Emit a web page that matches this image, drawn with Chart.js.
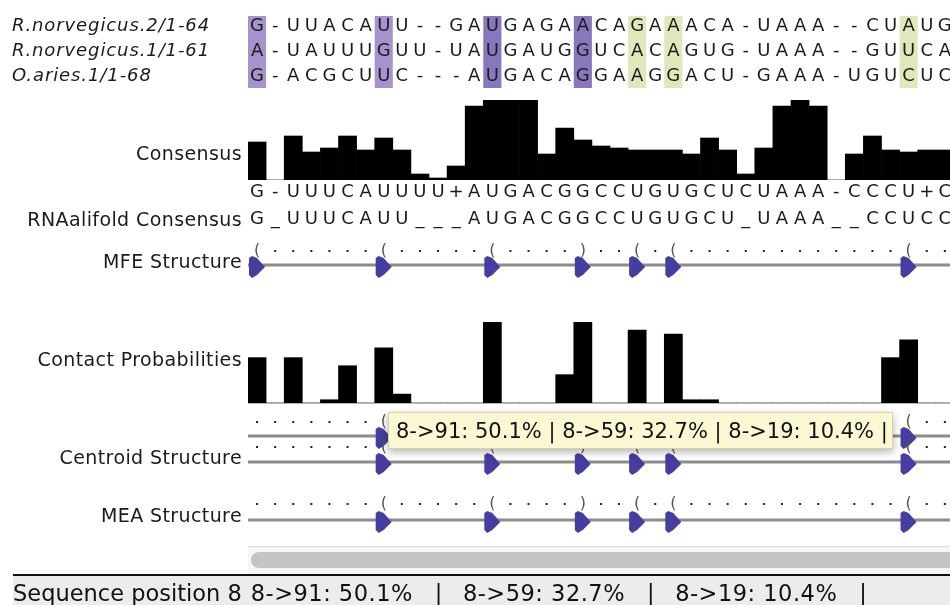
<!DOCTYPE html>
<html>
<head>
<meta charset="utf-8">
<script src="https://cdn.jsdelivr.net/npm/chart.js@4.4.1/dist/chart.umd.min.js"></script>
<style>
  html, body { margin: 0; padding: 0; background: #fff; }
  #wrap { position: relative; width: 950px; height: 605px; overflow: hidden; background: #fff; }
  #wrap canvas { position: absolute; left: 0; top: 0; }
</style>
</head>
<body>
<div id="wrap">
  <canvas id="cons" width="950" height="605"></canvas>
  <canvas id="contact" width="950" height="605"></canvas>
  <canvas id="main" width="950" height="605"></canvas>
</div>
<script>
// alignment rows
const seqNames = ['R.norvegicus.2/1-64', 'R.norvegicus.1/1-61', 'O.aries.1/1-68'];
const seqRows = [
  'G-UUACAUU--GAUGAGAACAGAAACA-UAAA--CUAUG',
  'A-UAUUUGUU-UAUGAUGGUCACAGUG-UAAA--GUUCA',
  'G-ACGCUUC---AUGACAGGAAGGACU-GAAA-UGUCUC'
];
const consensusSeq = 'G-UUUCAUUUU+AUGACGGCCUGUGCUCUAAA-CCCU+C';
const alifoldSeq   = 'G_UUUCAUU___AUGACGGCCUGUGCU_UAAA__CCUCC';

// secondary structure annotations
const mfeStructure      = '(......(.....(....)..(.(............(..';
const centroidStructure = '.......(.....(....)..(.(............(..';
const meaStructure      = '.......(.....(....)..(.(............(..';

// histogram rows, one value per column
const consensusValues = [47.5, 0, 55, 35, 40, 55, 37.5, 52.5, 37.5, 7.5, 2.5, 17.5, 92.5, 100, 100, 100, 32.5, 65, 50,
  42.5, 40, 37.5, 37.5, 37.5, 32.5, 52.5, 37.5, 7.5, 40, 92.5, 100, 92.5, 0, 32.5, 55, 37.5, 35, 37.5, 37.5];
const contactValues = [0.56, 0, 0.56, 0, 0.04, 0.46, 0, 0.68, 0.11, 0, 0, 0, 0, 1.0, 0, 0, 0, 0.35, 1.0,
  0, 0, 0.90, 0, 0.85, 0.04, 0.04, 0, 0, 0, 0, 0, 0, 0, 0, 0, 0.56, 0.78, 0, 0];

// helix columns and their colouring
const helixCols = [1, 8, 14, 19, 22, 24, 37];
const helixColours = ['#a693cd', '#a693cd', '#8877bd', '#8877bd', '#dfe8ba', '#dfe8ba', '#dfe8ba'];

// selected position + contacts (tooltip / status bar)
const selectedPos = 8;
const partners = [91, 59, 19];
const partnerPct = [50.1, 32.7, 10.4];

const FONT = '"DejaVu Sans", sans-serif';
const xScale = { type: 'linear', display: false, offset: false, min: 0.5, max: 39.285, ticks: { maxTicksLimit: 5 } };

function histogram(id, values, yMax, top, bottom) {
  return new Chart(document.getElementById(id), {
    type: 'bar',
    data: {
      datasets: [{
        data: values.map((v, i) => ({ x: i + 1, y: v })),
        backgroundColor: '#000',
        borderWidth: 0,
        barPercentage: 1,
        categoryPercentage: 1,
        grouped: false
      }]
    },
    options: {
      responsive: false,
      animation: false,
      devicePixelRatio: 1,
      layout: { padding: { left: 248, right: 0, top: top, bottom: 605 - bottom } },
      plugins: { legend: { display: false }, tooltip: { enabled: false } },
      scales: { x: xScale, y: { display: false, min: 0, max: yMax } }
    }
  });
}

histogram('cons', consensusValues, 100, 100, 180);
histogram('contact', contactValues, 1, 322, 403);

const sketch = {
  id: 'sketch',
  afterDraw(chart) {
    const ctx = chart.ctx;
    const x = chart.scales.x;
    const left = c => x.getPixelForValue(c - 0.5);
    const mid = c => x.getPixelForValue(c);
    const colW = left(2) - left(1);
    const L = chart.chartArea.left, R = chart.chartArea.right;
    ctx.save();

    // helix column shading
    helixCols.forEach((c, i) => {
      ctx.fillStyle = helixColours[i];
      ctx.fillRect(left(c), 16, colW, 72);
    });

    // residues
    function letters(str, y, size) {
      ctx.font = size + 'px ' + FONT;
      ctx.textAlign = 'center';
      ctx.textBaseline = 'alphabetic';
      ctx.fillStyle = '#1b1b1b';
      for (let c = 1; c <= str.length; c++) ctx.fillText(str[c - 1], mid(c), y);
    }
    const seqBase = [31, 56, 81];
    seqRows.forEach((s, i) => letters(s, seqBase[i], 18));
    letters(consensusSeq, 197, 18);
    letters(alifoldSeq, 224, 18);

    // sequence names
    ctx.textAlign = 'left';
    ctx.font = 'italic 18px ' + FONT;
    ctx.letterSpacing = '0.9px';
    seqNames.forEach((n, i) => ctx.fillText(n, 12, seqBase[i]));

    // annotation labels
    ctx.textAlign = 'right';
    ctx.font = '19px ' + FONT;
    ctx.letterSpacing = '0.4px';
    [['Consensus', 160], ['RNAalifold Consensus', 226], ['MFE Structure', 268],
     ['Contact Probabilities', 366], ['Centroid Structure', 464], ['MEA Structure', 522]]
      .forEach(([t, y]) => ctx.fillText(t, 242, y));
    ctx.letterSpacing = '0px';

    // contact baseline
    ctx.fillStyle = '#b4b4b4';
    ctx.fillRect(L, 403, R - L, 1);

    // structure rows
    function structure(str, dotY, lineY) {
      ctx.fillStyle = '#8c8c8c';
      ctx.fillRect(L, lineY - 1.5, R - L, 3);
      ctx.textAlign = 'center';
      for (let c = 1; c <= str.length; c++) {
        const ch = str[c - 1];
        const cx = mid(c);
        if (ch === '.') {
          ctx.fillStyle = '#222';
          ctx.fillRect(cx - 1, dotY - 1, 2, 2);
        } else {
          ctx.fillStyle = '#555';
          ctx.font = '16px ' + FONT;
          ctx.fillText(ch, cx, dotY + 4);
          const xl = left(c);
          ctx.fillStyle = '#463da0';
          ctx.beginPath();
          ctx.moveTo(xl + 1, lineY - 7);
          ctx.lineTo(xl + 4, lineY - 9);
          ctx.lineTo(xl + 9, lineY - 7);
          ctx.lineTo(xl + 17, lineY + 2);
          ctx.lineTo(xl + 9, lineY + 10);
          ctx.lineTo(xl + 4, lineY + 13);
          ctx.lineTo(xl + 1, lineY + 10);
          ctx.closePath();
          ctx.fill();
        }
      }
    }
    structure(mfeStructure, 251, 265);
    structure(centroidStructure, 422, 436);
    structure(centroidStructure, 447, 462);
    structure(meaStructure, 504, 520);

    // scroll area
    ctx.fillStyle = '#f6f6f6';
    ctx.fillRect(L, 546, R - L, 29);
    ctx.fillStyle = '#dedede';
    ctx.fillRect(L, 546, R - L, 1);
    ctx.fillStyle = '#c4c4c4';
    ctx.beginPath();
    ctx.roundRect(251, 552, 720, 16, 8);
    ctx.fill();

    // status bar
    ctx.fillStyle = '#ececec';
    ctx.fillRect(13, 576, 950 - 13, 29);
    ctx.fillStyle = '#111';
    ctx.fillRect(13, 574, 950 - 13, 2);
    const pairs = partners.map((p, i) => selectedPos + '->' + p + ': ' + partnerPct[i].toFixed(1) + '%');
    ctx.font = '22.5px ' + FONT;
    ctx.textAlign = 'left';
    ctx.fillStyle = '#111';
    let sx = 13;
    const head = 'Sequence position ' + selectedPos;
    ctx.fillText(head, sx, 601);
    sx += ctx.measureText(head).width + 9;
    ctx.letterSpacing = '0.5px';
    pairs.forEach(p => {
      ctx.fillText(p, sx, 601);
      sx += ctx.measureText(p).width + 22;
      ctx.fillText('|', sx, 601);
      sx += ctx.measureText('|').width + 20;
    });
    ctx.letterSpacing = '0px';

    // tooltip
    ctx.save();
    ctx.shadowColor = 'rgba(0,0,0,0.3)';
    ctx.shadowBlur = 8;
    ctx.shadowOffsetY = 3;
    ctx.fillStyle = '#fbf8d3';
    ctx.fillRect(388, 412, 505, 37);
    ctx.restore();
    ctx.strokeStyle = '#d6d2ac';
    ctx.lineWidth = 1;
    ctx.strokeRect(388.5, 412.5, 504, 36);
    ctx.font = '21px ' + FONT;
    ctx.fillStyle = '#111';
    ctx.fillText(pairs.join(' | ') + ' |', 396, 438);

    ctx.restore();
  }
};

new Chart(document.getElementById('main'), {
  type: 'scatter',
  data: { datasets: [{ data: [] }] },
  options: {
    responsive: false,
    animation: false,
    devicePixelRatio: 1,
    layout: { padding: { left: 248, right: 0, top: 0, bottom: 0 } },
    plugins: { legend: { display: false }, tooltip: { enabled: false } },
    scales: { x: xScale, y: { display: false, min: 0, max: 1 } }
  },
  plugins: [sketch]
});
</script>
</body>
</html>
